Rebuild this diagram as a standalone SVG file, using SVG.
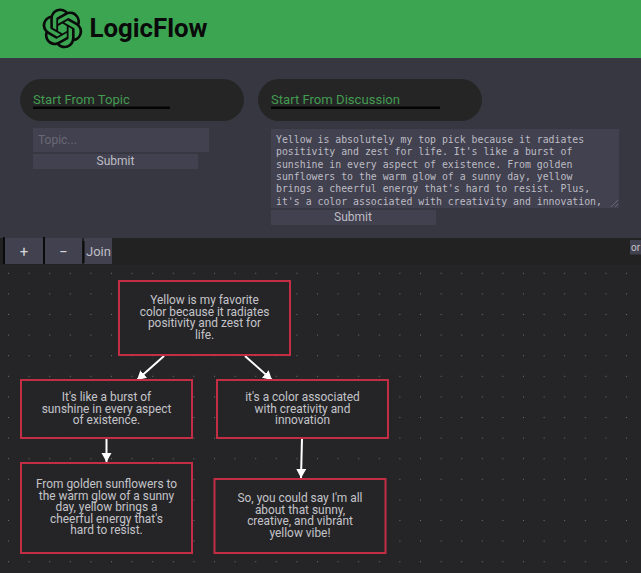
<svg xmlns="http://www.w3.org/2000/svg" width="641" height="573" viewBox="0 0 641 573">
<defs>
<pattern id="dots" x="8" y="5" width="20.6" height="20.6" patternUnits="userSpaceOnUse"><rect width="1" height="1" fill="#6e6e72"/></pattern>
<marker id="arrow" markerUnits="userSpaceOnUse" markerWidth="14" markerHeight="14" refX="9" refY="5" orient="auto"><path d="M0 0L9 5L0 10Z" fill="#fff"/></marker>
</defs>
<style>
.ui{font-family:Roboto,"Noto Sans",sans-serif}
.node rect{fill:#252528;stroke:#c22f44;stroke-width:2}
.node text{font-family:Roboto,"Noto Sans",sans-serif;font-size:11.900px;fill:#c4c4c8;text-anchor:middle}
.pill{fill:#252525}
.title{font-family:Roboto,"Noto Sans",sans-serif;font-size:13.100px;fill:#429c51}
.field{fill:#42414f}
.btn{fill:#42414f}
.btntext{font-family:Roboto,"Noto Sans",sans-serif;font-size:12px;fill:#bdbdc4;text-anchor:middle}
.mono{font-family:"DejaVu Sans Mono",monospace;font-size:9.850px;fill:#bcbcc4}
.edge{stroke:#fff;stroke-width:2;fill:none;marker-end:url(#arrow)}
</style>
<rect width="641" height="573" fill="#252528"/>
<rect width="641" height="573" fill="url(#dots)"/>
<rect y="58" width="641" height="180" fill="#373741"/>
<rect width="641" height="58" fill="#3ca551"/>
<g id="logo" transform="translate(42.500,8.500) scale(1.660)">
<path fill="#0a0a0a" d="M22.2819 9.8211a5.9847 5.9847 0 0 0-.5157-4.9108 6.0462 6.0462 0 0 0-6.5098-2.9A6.0651 6.0651 0 0 0 4.9807 4.1818a5.9847 5.9847 0 0 0-3.9977 2.9 6.0462 6.0462 0 0 0 .7427 7.0966 5.98 5.98 0 0 0 .511 4.9107 6.051 6.051 0 0 0 6.5146 2.9001A5.9847 5.9847 0 0 0 13.2599 24a6.0557 6.0557 0 0 0 5.7718-4.2058 5.9894 5.9894 0 0 0 3.9977-2.9001 6.0557 6.0557 0 0 0-.7475-7.0729zm-9.022 12.6081a4.4755 4.4755 0 0 1-2.8764-1.0408l.1419-.0804 4.7783-2.7582a.7948.7948 0 0 0 .3927-.6813v-6.7369l2.02 1.1686a.071.071 0 0 1 .038.052v5.5826a4.504 4.504 0 0 1-4.4945 4.4944zm-9.6607-4.1254a4.4708 4.4708 0 0 1-.5346-3.0137l.142.0852 4.783 2.7582a.7712.7712 0 0 0 .7806 0l5.8428-3.3685v2.3324a.0804.0804 0 0 1-.0332.0615L9.74 19.9502a4.4992 4.4992 0 0 1-6.1408-1.6464zM2.3408 7.8956a4.485 4.485 0 0 1 2.3655-1.9728V11.6a.7664.7664 0 0 0 .3879.6765l5.8144 3.3543-2.0201 1.1685a.0757.0757 0 0 1-.071 0l-4.8303-2.7865A4.504 4.504 0 0 1 2.3408 7.872zm16.5963 3.8558L13.1038 8.364 15.1192 7.2a.0757.0757 0 0 1 .071 0l4.8303 2.7913a4.4944 4.4944 0 0 1-.6765 8.1042v-5.6772a.79.79 0 0 0-.407-.667zm2.0107-3.0231l-.142-.0852-4.7735-2.7818a.7759.7759 0 0 0-.7854 0L9.409 9.2297V6.8974a.0662.0662 0 0 1 .0284-.0615l4.8303-2.7866a4.4992 4.4992 0 0 1 6.6802 4.66zM8.3065 12.863l-2.02-1.1638a.0804.0804 0 0 1-.038-.0567V6.0742a4.4992 4.4992 0 0 1 7.3757-3.4537l-.142.0805L8.704 5.459a.7948.7948 0 0 0-.3927.6813zm1.0976-2.3654l2.602-1.4998 2.6069 1.4998v2.9994l-2.5974 1.4997-2.6067-1.4997Z"/>
</g>
<text x="89.500" y="37" class="ui" font-size="25.800" font-weight="700" fill="#0a0a0a">LogicFlow</text>
<g id="panel-topic">
<rect class="pill" x="20" y="79" width="224" height="42" rx="21"/>
<text class="title" x="33" y="104">Start From Topic</text>
<rect x="33" y="106.500" width="137" height="2.500" fill="#050505"/>
<rect class="field" x="33" y="128" width="176" height="24"/>
<text x="38" y="144" class="ui" font-size="12" fill="#686876">Topic...</text>
<rect class="btn" x="33" y="154" width="165" height="15"/>
<text class="btntext" x="115.500" y="165">Submit</text>
</g>
<g id="panel-discussion">
<rect class="pill" x="258" y="79" width="224" height="42" rx="21"/>
<text class="title" x="271" y="104">Start From Discussion</text>
<rect x="271" y="106.500" width="169" height="2.500" fill="#050505"/>
<rect class="field" x="271" y="129" width="348" height="79"/>
<g class="mono">
<text x="276" y="143">Yellow is absolutely my top pick because it radiates</text>
<text x="276" y="155.300">positivity and zest for life. It's like a burst of</text>
<text x="276" y="167.600">sunshine in every aspect of existence. From golden</text>
<text x="276" y="179.900">sunflowers to the warm glow of a sunny day, yellow</text>
<text x="276" y="192.200">brings a cheerful energy that's hard to resist. Plus,</text>
<text x="276" y="204.500">it's a color associated with creativity and innovation,</text>
</g>
<path d="M611 207L618 200M615 207L618 204" stroke="#77777f" stroke-width="0.700"/>
<rect class="btn" x="271" y="210" width="165" height="15"/>
<text class="btntext" x="353" y="221">Submit</text>
</g>
<g id="toolbar">
<rect y="238" width="641" height="27" fill="#222"/>
<rect x="5" y="238" width="38" height="26" class="btn"/>
<rect x="45" y="238" width="37" height="26" class="btn"/>
<rect x="84" y="238" width="28" height="26" class="btn"/>
<rect x="3" y="237" width="2" height="27" fill="#0a0a0a"/>
<rect x="43" y="237" width="2" height="27" fill="#0a0a0a"/>
<rect x="82.500" y="241" width="2" height="22" fill="#0a0a0a"/>
<text x="24" y="257" class="btntext" style="font-size:15px;fill:#d6d6da">+</text>
<text x="63.500" y="257" class="btntext" style="font-size:15px;fill:#d6d6da">−</text>
<text x="98.500" y="256" class="btntext" style="font-size:13px">Join</text>
<rect x="630" y="240" width="11" height="14.500" class="btn"/>
<text x="631" y="251" class="ui" font-size="10" fill="#c4c4c8">or</text>
</g>
<g id="connectors">
<path class="edge" d="M164 356L137 380"/>
<path class="edge" d="M245 356L272 380"/>
<path class="edge" d="M106.500 438L106.500 462"/>
<path class="edge" d="M302 438L301 478"/>
</g>
<g id="n1" class="node"><rect x="119" y="281" width="171" height="74"/>
<text x="204.500" y="304">Yellow is my favorite</text><text x="204.500" y="315.500">color because it radiates</text><text x="204.500" y="327">positivity and zest for</text><text x="204.500" y="338.500">life.</text></g>
<g id="n2" class="node"><rect x="21" y="380" width="171" height="58"/>
<text x="106.500" y="401">It's like a burst of</text><text x="106.500" y="412.500">sunshine in every aspect</text><text x="106.500" y="424">of existence.</text></g>
<g id="n3" class="node"><rect x="217" y="380" width="171" height="58"/>
<text x="302.500" y="401">it's a color associated</text><text x="302.500" y="412.500">with creativity and</text><text x="302.500" y="424">innovation</text></g>
<g id="n4" class="node"><rect x="21" y="463" width="171" height="90"/>
<text x="106.500" y="488">From golden sunflowers to</text><text x="106.500" y="499.500">the warm glow of a sunny</text><text x="106.500" y="511">day, yellow brings a</text><text x="106.500" y="522.500">cheerful energy that's</text><text x="106.500" y="534">hard to resist.</text></g>
<g id="n5" class="node"><rect x="214.500" y="479" width="171" height="74"/>
<text x="300" y="502">So, you could say I'm all</text><text x="300" y="513.500">about that sunny,</text><text x="300" y="525">creative, and vibrant</text><text x="300" y="536.500">yellow vibe!</text></g>
</svg>
